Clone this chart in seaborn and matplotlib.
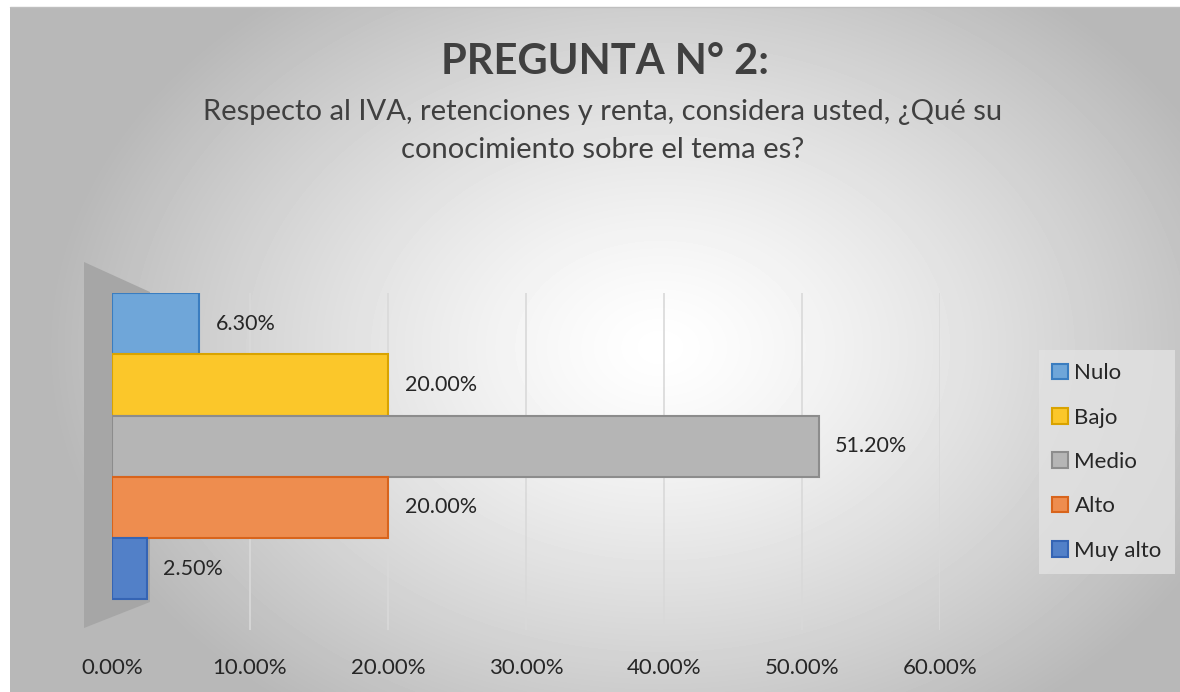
import numpy as np
import pandas as pd
import matplotlib
matplotlib.use("Agg")
import matplotlib.pyplot as plt
from matplotlib.patches import Patch, Polygon
import seaborn as sns

# data
categories = ["Nulo", "Bajo", "Medio", "Alto", "Muy alto"]
values = [0.063, 0.20, 0.512, 0.20, 0.025]
labels = ["6.30%", "20.00%", "51.20%", "20.00%", "2.50%"]
xticks = [0.0, 0.1, 0.2, 0.3, 0.4, 0.5, 0.6]
xtick_labels = ["0.00%", "10.00%", "20.00%", "30.00%", "40.00%", "50.00%", "60.00%"]

fill_colors = ["#6FA6D9", "#FBC72A", "#B5B5B5", "#EE8D4F", "#5280C8"]
edge_colors = ["#3A7DC0", "#D9A300", "#8C8C8C", "#D8641C", "#3564B4"]

df = pd.DataFrame({"categoria": categories, "valor": values})

sns.set_style("white")
plt.rcParams["font.family"] = ["Lato", "DejaVu Sans"]

W, H = 1180, 692
fig = plt.figure(figsize=(W / 100, H / 100), dpi=100)
fig.patch.set_facecolor("white")

# radial gradient background of the chart area
bg = fig.add_axes([10 / W, 0, 1 - 10 / W, 1 - 7 / H], zorder=0)
yy, xx = np.mgrid[0:685, 0:1170]
d = np.sqrt(((xx - 650) / 680.0) ** 2 + ((yy - 340) / 500.0) ** 2)
shade = np.clip(1.0 - 0.32 * d ** 1.3, 0.72, 1.0)
bg.imshow(shade, cmap="gray", vmin=0, vmax=1, aspect="auto", interpolation="bilinear")
bg.set_axis_off()
fig.add_artist(plt.Line2D([10 / W, 1], [1 - 7 / H, 1 - 7 / H], color="#bfbfbf", lw=1))

# grey side wall (3d look)
wall = [(84, 262), (150, 292), (150, 602), (84, 628)]
fig.add_artist(Polygon([(x / W, 1 - y / H) for x, y in wall], closed=True,
                       transform=fig.transFigure, facecolor="#a6a6a6", edgecolor="none", zorder=1))

ax = fig.add_axes([112 / W, 1 - 630 / H, (940 - 112) / W, (630 - 293) / H], zorder=2)
ax.patch.set_alpha(0)

sns.barplot(data=df, x="valor", y="categoria", hue="categoria", palette=fill_colors,
            width=1.0, legend=False, ax=ax, orient="h", saturation=1, zorder=3)
for bar, ec in zip(ax.patches, edge_colors):
    bar.set_edgecolor(ec)
    bar.set_linewidth(1.5)

for i, (v, lab) in enumerate(zip(values, labels)):
    ax.text(v + 0.012, i, lab, va="center", ha="left", fontsize=15.5, color="#262626", zorder=5)

ax.set_xlim(0, 0.6)
ax.set_ylim(5.0, -0.5)
ax.set_xticks(xticks)
ax.set_xticklabels(xtick_labels, fontsize=16, color="#262626")
ax.tick_params(axis="x", length=0, pad=20)
ax.set_yticks([])
ax.set_xlabel("")
ax.set_ylabel("")
for x in xticks[1:]:
    ax.axvline(x, color="#d9d9d9", lw=1.2, zorder=1)
for s in ax.spines.values():
    s.set_visible(False)

fig.text(605 / W, 1 - 62 / H, "PREGUNTA N° 2:", ha="center", va="center",
         fontsize=30, fontweight="bold", color="#404040")
fig.text(603 / W, 1 - 112 / H, "Respecto al IVA, retenciones y renta, considera usted, ¿Qué su",
         ha="center", va="center", fontsize=21, color="#404040")
fig.text(603 / W, 1 - 150 / H, "conocimiento sobre el tema es?",
         ha="center", va="center", fontsize=21, color="#404040")

handles = [Patch(facecolor=fc, edgecolor=ec, linewidth=1.5, label=c)
           for c, fc, ec in zip(categories, fill_colors, edge_colors)]
leg = fig.legend(handles=handles, loc="center", bbox_to_anchor=(1107 / W, 1 - 462 / H),
                 fontsize=16, frameon=True, fancybox=False, handlelength=0.7, handleheight=0.7,
                 handletextpad=0.3, labelspacing=1.1, borderpad=0.6)
leg.get_frame().set_facecolor("#e2e2e2")
leg.get_frame().set_edgecolor("none")

fig.savefig("out.png", dpi=100)
